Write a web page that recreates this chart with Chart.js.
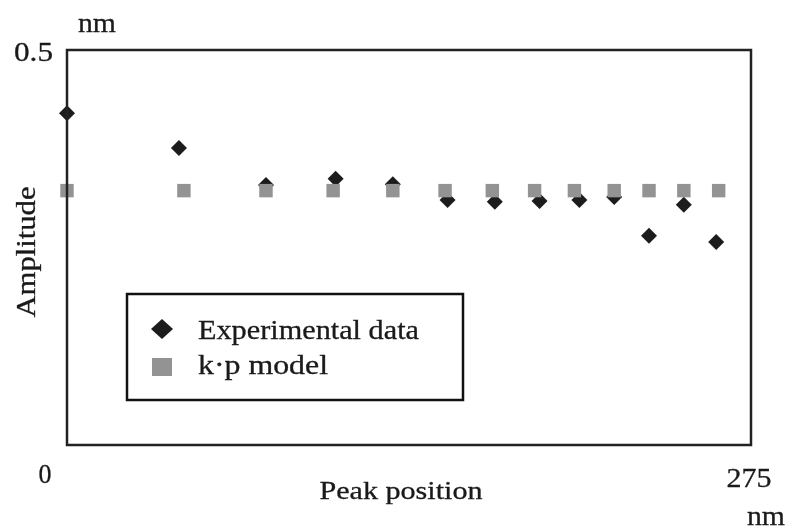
<!DOCTYPE html>
<html>
<head>
<meta charset="utf-8">
<script src="https://cdn.jsdelivr.net/npm/chart.js@4/dist/chart.umd.min.js"></script>
<style>
  html, body { margin: 0; padding: 0; background: #fff; }
  #wrap { width: 788px; height: 527px; }
</style>
</head>
<body>
<div id="wrap"><canvas id="myChart" width="788" height="527"></canvas></div>
<script>
// values
const expX = [0, 45, 80, 108, 131, 153, 172, 190, 206, 220, 234, 248, 261];
const expY = [0.420, 0.376, 0.329, 0.337, 0.330, 0.310, 0.308, 0.309, 0.310, 0.314, 0.265, 0.304, 0.257];
const modelX = [0, 47, 80, 107, 131, 152, 171, 188, 204, 220, 234, 248, 262];
const modelY = [0.322, 0.322, 0.322, 0.322, 0.322, 0.322, 0.322, 0.322, 0.322, 0.322, 0.322, 0.322, 0.322];
const seriesNames = ['Experimental data', 'k\u00b7p model'];
const xTicks = [0, 275];
const yTicks = [0, 0.5];
const unit = 'nm';
const xTitle = 'Peak position';
const yTitle = 'Amplitude';

const FONT = '"Liberation Serif", "Times New Roman", Times, serif';

function toPoints(xs, ys) {
    return xs.map((x, i) => ({ x: x, y: ys[i] }));
}

// draw text, squeezed/stretched along its baseline to the width seen in the source
function txt(ctx, s, x, y, size, align, w, rot) {
    ctx.save();
    ctx.font = size + 'px ' + FONT;
    const sx = w ? w / ctx.measureText(s).width : 1;
    ctx.translate(x, y);
    if (rot) ctx.rotate(rot);
    ctx.scale(sx, 1);
    ctx.fillStyle = '#1a1a1a';
    ctx.strokeStyle = '#1a1a1a';
    ctx.lineWidth = 0.3; // source text is slightly heavier
    ctx.textAlign = align || 'center';
    ctx.textBaseline = 'alphabetic';
    ctx.fillText(s, 0, 0);
    ctx.strokeText(s, 0, 0);
    ctx.restore();
}

// frame, tick labels, titles and the boxed legend
const decor = {
    id: 'decor',
    afterDatasetsDraw(chart) {
        const ctx = chart.ctx;
        const a = chart.chartArea;
        const xs = chart.scales.x, ys = chart.scales.y;
        ctx.save();
        ctx.strokeStyle = '#222';
        ctx.lineWidth = 2.5;
        ctx.strokeRect(a.left, a.top, a.right - a.left, a.bottom - a.top);

        // ticks
        txt(ctx, String(yTicks[1]), a.left - 14, ys.getPixelForValue(yTicks[1]) + 11, 27, 'right', 39);
        txt(ctx, String(xTicks[0]), a.left - 22, ys.getPixelForValue(yTicks[0]) + 38, 27, 'center', 13);
        txt(ctx, String(xTicks[1]), xs.getPixelForValue(xTicks[1]) - 2, ys.getPixelForValue(yTicks[0]) + 42, 27, 'center', 45);
        // units
        txt(ctx, unit, a.left + 30, 32, 28, 'center', 38);
        txt(ctx, unit, 766, 525, 28, 'center', 38);
        // titles
        txt(ctx, xTitle, (a.left + a.right) / 2 - 8, 499, 25, 'center', 163);
        txt(ctx, yTitle, 35, 252, 27, 'center', 131, -Math.PI / 2);

        // legend
        ctx.lineWidth = 2.5;
        ctx.strokeStyle = '#111';
        ctx.strokeRect(127, 294, 336, 106);
        const ds = chart.data.datasets;
        ctx.fillStyle = ds[0].backgroundColor;
        ctx.beginPath();
        ctx.moveTo(162, 319); ctx.lineTo(173, 329); ctx.lineTo(162, 339); ctx.lineTo(151, 329);
        ctx.closePath();
        ctx.fill();
        ctx.fillStyle = ds[1].backgroundColor;
        ctx.fillRect(152, 358, 20, 18);
        txt(ctx, seriesNames[0], 198, 339, 27, 'left', 221);
        txt(ctx, seriesNames[1], 198, 374, 27, 'left', 130);
        ctx.restore();
    }
};

function build() {
    let ctx = document.getElementById('myChart').getContext('2d');
    const data = {
        datasets: [{
            label: seriesNames[0],
            data: toPoints(expX, expY),
            backgroundColor: '#1c1c1c',
            borderColor: '#1c1c1c',
            pointStyle: 'rectRot',
            pointRadius: 8,
            borderWidth: 0,
            clip: false,
            order: 2
        }, {
            label: seriesNames[1],
            data: toPoints(modelX, modelY),
            backgroundColor: '#939393',
            borderColor: '#939393',
            pointStyle: 'rect',
            pointRadius: 9.5,
            borderWidth: 0,
            clip: false,
            order: 1
        }]
    };

    const config = {
        type: 'scatter',
        data,
        options: {
            responsive: false,
            animation: false,
            layout: { padding: { left: 67, top: 50, right: 37, bottom: 82 } },
            plugins: { legend: { display: false }, tooltip: { enabled: false } },
            scales: {
                x: { type: 'linear', min: xTicks[0], max: xTicks[1], display: false },
                y: { type: 'linear', min: yTicks[0], max: yTicks[1], display: false }
            }
        },
        plugins: [decor]
    };
    new Chart(ctx, config);
}

// make sure the serif face is ready before the canvas text is drawn
if (document.fonts && document.fonts.load) {
    document.fonts.load('27px "Liberation Serif"').then(build, build);
} else {
    build();
}
</script>
</body>
</html>
